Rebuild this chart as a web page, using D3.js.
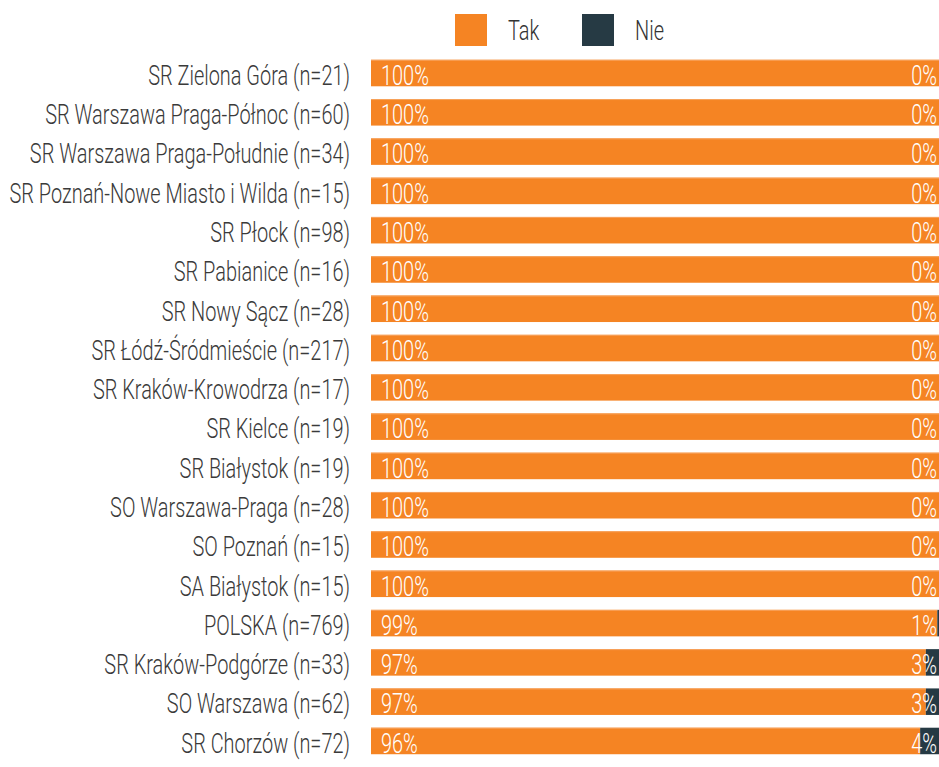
<!DOCTYPE html>
<html>
<head>
<meta charset="utf-8">
<script src="https://cdn.jsdelivr.net/npm/d3@7"></script>
<style>
  body { margin: 0; background: #fff; overflow: hidden; }
  text { font-family: Roboto, sans-serif; font-weight: 300; }
</style>
</head>
<body>
<div id="chart"></div>
<script>
// data
const categories = [
  'SR Zielona Góra (n=21)',
  'SR Warszawa Praga-Północ (n=60)',
  'SR Warszawa Praga-Południe (n=34)',
  'SR Poznań-Nowe Miasto i Wilda (n=15)',
  'SR Płock (n=98)',
  'SR Pabianice (n=16)',
  'SR Nowy Sącz (n=28)',
  'SR Łódź-Śródmieście (n=217)',
  'SR Kraków-Krowodrza (n=17)',
  'SR Kielce (n=19)',
  'SR Białystok (n=19)',
  'SO Warszawa-Praga (n=28)',
  'SO Poznań (n=15)',
  'SA Białystok (n=15)',
  'POLSKA (n=769)',
  'SR Kraków-Podgórze (n=33)',
  'SO Warszawa (n=62)',
  'SR Chorzów (n=72)'
];
const takValues = [100, 100, 100, 100, 100, 100, 100, 100, 100, 100, 100, 100, 100, 100, 99, 97, 97, 96];
const nieValues = [0, 0, 0, 0, 0, 0, 0, 0, 0, 0, 0, 0, 0, 0, 1, 3, 3, 4];
const seriesNames = ['Tak', 'Nie'];
const colors = ['#f58423', '#263a44'];

const W = 939, H = 767;
const sx = 0.712; // horizontal squeeze to mimic the condensed face

const svg = d3.select('#chart').append('svg')
  .attr('width', W).attr('height', H);

const rows = categories.map((c, i) => ({ cat: c, tak: takValues[i], nie: nieValues[i] }));

const y = d3.scaleBand().domain(categories).range([47, 767]).padding(0.325);
// bars run slightly past the right edge of the picture
const x = d3.scaleLinear().domain([0, 100]).range([371, 943]);

// Legend
const legend = svg.append('g');
const legX = [455, 582];
seriesNames.forEach((s, i) => {
  legend.append('rect')
    .attr('x', legX[i]).attr('y', 14).attr('width', 32).attr('height', 32)
    .attr('fill', colors[i]);
  legend.append('text')
    .attr('transform', `translate(${legX[i] + 53},40) scale(${sx},1)`)
    .attr('font-size', 28).attr('fill', '#333')
    .text(s);
});

const row = svg.selectAll('.row').data(rows).enter().append('g').attr('class', 'row');

// Tak bars
row.append('rect')
  .attr('x', x(0))
  .attr('y', d => y(d.cat))
  .attr('width', d => x(d.tak) - x(0))
  .attr('height', y.bandwidth())
  .attr('fill', colors[0]);

// Nie bars
row.append('rect')
  .attr('x', d => x(d.tak))
  .attr('y', d => y(d.cat))
  .attr('width', d => x(d.tak + d.nie) - x(d.tak))
  .attr('height', y.bandwidth())
  .attr('fill', colors[1]);

// thin light line at top of bars
row.append('rect')
  .attr('x', x(0))
  .attr('y', d => y(d.cat))
  .attr('width', d => x(d.tak) - x(0))
  .attr('height', 1)
  .attr('fill', '#f7a35e');

// Category labels
row.append('text')
  .attr('transform', d => `translate(350,${y(d.cat) + 25}) scale(${sx},1)`)
  .attr('text-anchor', 'end')
  .attr('font-size', 28)
  .attr('fill', '#3a3a3a')
  .text(d => d.cat);

// Value labels
row.append('text')
  .attr('transform', d => `translate(${x(0) + 10},${y(d.cat) + 25}) scale(${sx},1)`)
  .attr('font-size', 28)
  .attr('fill', '#fff')
  .text(d => d.tak + '%');

row.append('text')
  .attr('transform', d => `translate(937,${y(d.cat) + 25}) scale(${sx},1)`)
  .attr('text-anchor', 'end')
  .attr('font-size', 28)
  .attr('fill', '#fff')
  .text(d => d.nie + '%');
</script>
</body>
</html>
